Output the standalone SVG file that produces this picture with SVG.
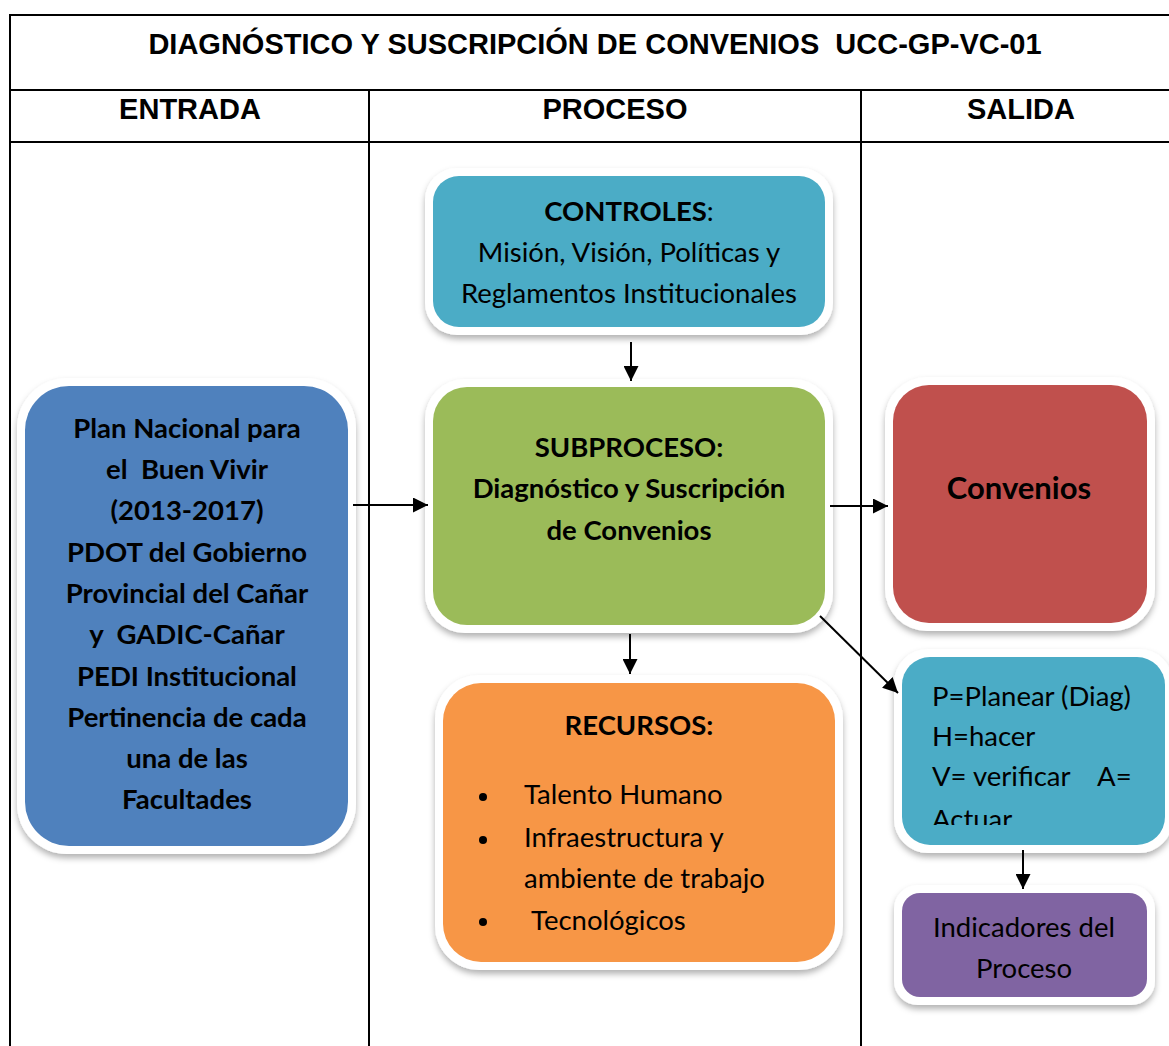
<svg xmlns="http://www.w3.org/2000/svg" width="1169" height="1046" viewBox="0 0 1169 1046">
<style>
.tbl{stroke:#000;stroke-width:2;fill:none}
.hd{font-family:"Liberation Sans",Arial,sans-serif;font-weight:bold;fill:#000;text-anchor:middle;font-size:29px}
.t{font-family:Lato,"Open Sans",sans-serif;fill:#000;font-size:27.5px}
.b{font-weight:bold}
.c{text-anchor:middle}
.pre{white-space:pre}
.big{font-size:31px}
.frame{fill:#fff}
.conn{stroke:#000;stroke-width:2;fill:none;marker-end:url(#ah)}
</style>
<defs>
<filter id="sh" x="-10%" y="-10%" width="120%" height="125%">
<feDropShadow dx="0" dy="4" stdDeviation="3" flood-color="#000" flood-opacity="0.3"/>
</filter>
<marker id="ah" viewBox="0 0 10 10" refX="10" refY="5" markerWidth="7.5" markerHeight="7.5" orient="auto" markerUnits="strokeWidth">
<path d="M0,0 L10,5 L0,10 z" fill="#000"/>
</marker>
<clipPath id="pdcaclip"><rect x="900" y="655" width="270" height="170"/></clipPath>
</defs>
<rect width="1169" height="1046" fill="#fff"/>
<g id="table">
<path class="tbl" d="M10,1046 V15 H1169 M10,90 H1169 M10,142 H1169 M369,90 V1046 M861,90 V1046"/>
<text class="hd pre" x="595" y="54" xml:space="preserve">DIAGNÓSTICO Y SUSCRIPCIÓN DE CONVENIOS  UCC-GP-VC-01</text>
<text class="hd" x="190" y="119">ENTRADA</text>
<text class="hd" x="615" y="119">PROCESO</text>
<text class="hd" x="1021" y="119">SALIDA</text>
</g>
<g id="controles">
<rect class="frame" x="425" y="168" width="408" height="167" rx="32" filter="url(#sh)"/>
<rect x="433" y="176" width="392" height="151" rx="26" fill="#4BACC6"/>
<text class="t c" x="629" y="221"><tspan class="b">CONTROLES</tspan>:</text>
<text class="t c" x="629" y="262">Misión, Visión, Políticas y</text>
<text class="t c" x="629" y="303">Reglamentos Institucionales</text>
</g>
<g id="plan">
<rect class="frame" x="17" y="378" width="339" height="476" rx="50" filter="url(#sh)"/>
<rect x="25" y="386" width="323" height="460" rx="44" fill="#4F81BD"/>
<g class="t b c">
<text x="187" y="438">Plan Nacional para</text>
<text class="pre" x="187" y="479" xml:space="preserve">el  Buen Vivir</text>
<text x="187" y="520">(2013-2017)</text>
<text x="187" y="562">PDOT del Gobierno</text>
<text x="187" y="603">Provincial del Cañar</text>
<text class="pre" x="187" y="644" xml:space="preserve">y  GADIC-Cañar</text>
<text x="187" y="686">PEDI Institucional</text>
<text x="187" y="727">Pertinencia de cada</text>
<text x="187" y="768">una de las</text>
<text x="187" y="809">Facultades</text>
</g>
</g>
<g id="subproceso">
<rect class="frame" x="425" y="379" width="408" height="254" rx="40" filter="url(#sh)"/>
<rect x="433" y="387" width="392" height="238" rx="34" fill="#9BBB59"/>
<g class="t b c">
<text x="629" y="457">SUBPROCESO:</text>
<text x="629" y="498">Diagnóstico y Suscripción</text>
<text x="629" y="540">de Convenios</text>
</g>
</g>
<g id="convenios">
<rect class="frame" x="885" y="377" width="270" height="254" rx="42" filter="url(#sh)"/>
<rect x="893" y="385" width="254" height="238" rx="36" fill="#C0504D"/>
<text class="t b c big" x="1019" y="499">Convenios</text>
</g>
<g id="recursos">
<rect class="frame" x="435" y="675" width="408" height="295" rx="44" filter="url(#sh)"/>
<rect x="443" y="683" width="392" height="279" rx="38" fill="#F79646"/>
<text class="t b c" x="639" y="735">RECURSOS:</text>
<g class="t">
<circle cx="483" cy="797" r="4" fill="#000"/>
<circle cx="483" cy="840" r="4" fill="#000"/>
<circle cx="483" cy="922" r="4" fill="#000"/>
<text x="524" y="804">Talento Humano</text>
<text x="524" y="847">Infraestructura y</text>
<text x="524" y="888">ambiente de trabajo</text>
<text x="531" y="930">Tecnológicos</text>
</g>
</g>
<g id="pdca">
<rect class="frame" x="894" y="649" width="279" height="204" rx="34" filter="url(#sh)"/>
<rect x="902" y="657" width="263" height="188" rx="28" fill="#4BACC6"/>
<g class="t" clip-path="url(#pdcaclip)">
<text x="932" y="706">P=Planear (Diag)</text>
<text x="932" y="746">H=hacer</text>
<text class="pre" x="932" y="786" xml:space="preserve">V= verificar    A=</text>
<text x="932" y="829">Actuar</text>
</g>
</g>
<g id="indicadores">
<rect class="frame" x="894" y="885" width="261" height="120" rx="24" filter="url(#sh)"/>
<rect x="902" y="893" width="245" height="104" rx="18" fill="#8064A2"/>
<text class="t c" x="1024" y="937">Indicadores del</text>
<text class="t c" x="1024" y="978">Proceso</text>
</g>
<g id="connectors">
<line class="conn" x1="631" y1="342" x2="631" y2="381"/>
<line class="conn" x1="353" y1="505" x2="428" y2="505"/>
<line class="conn" x1="830" y1="506" x2="888" y2="506"/>
<line class="conn" x1="630" y1="634" x2="630" y2="674"/>
<line class="conn" x1="820" y1="616" x2="898" y2="693"/>
<line class="conn" x1="1023" y1="850" x2="1023" y2="889"/>
</g>
</svg>
